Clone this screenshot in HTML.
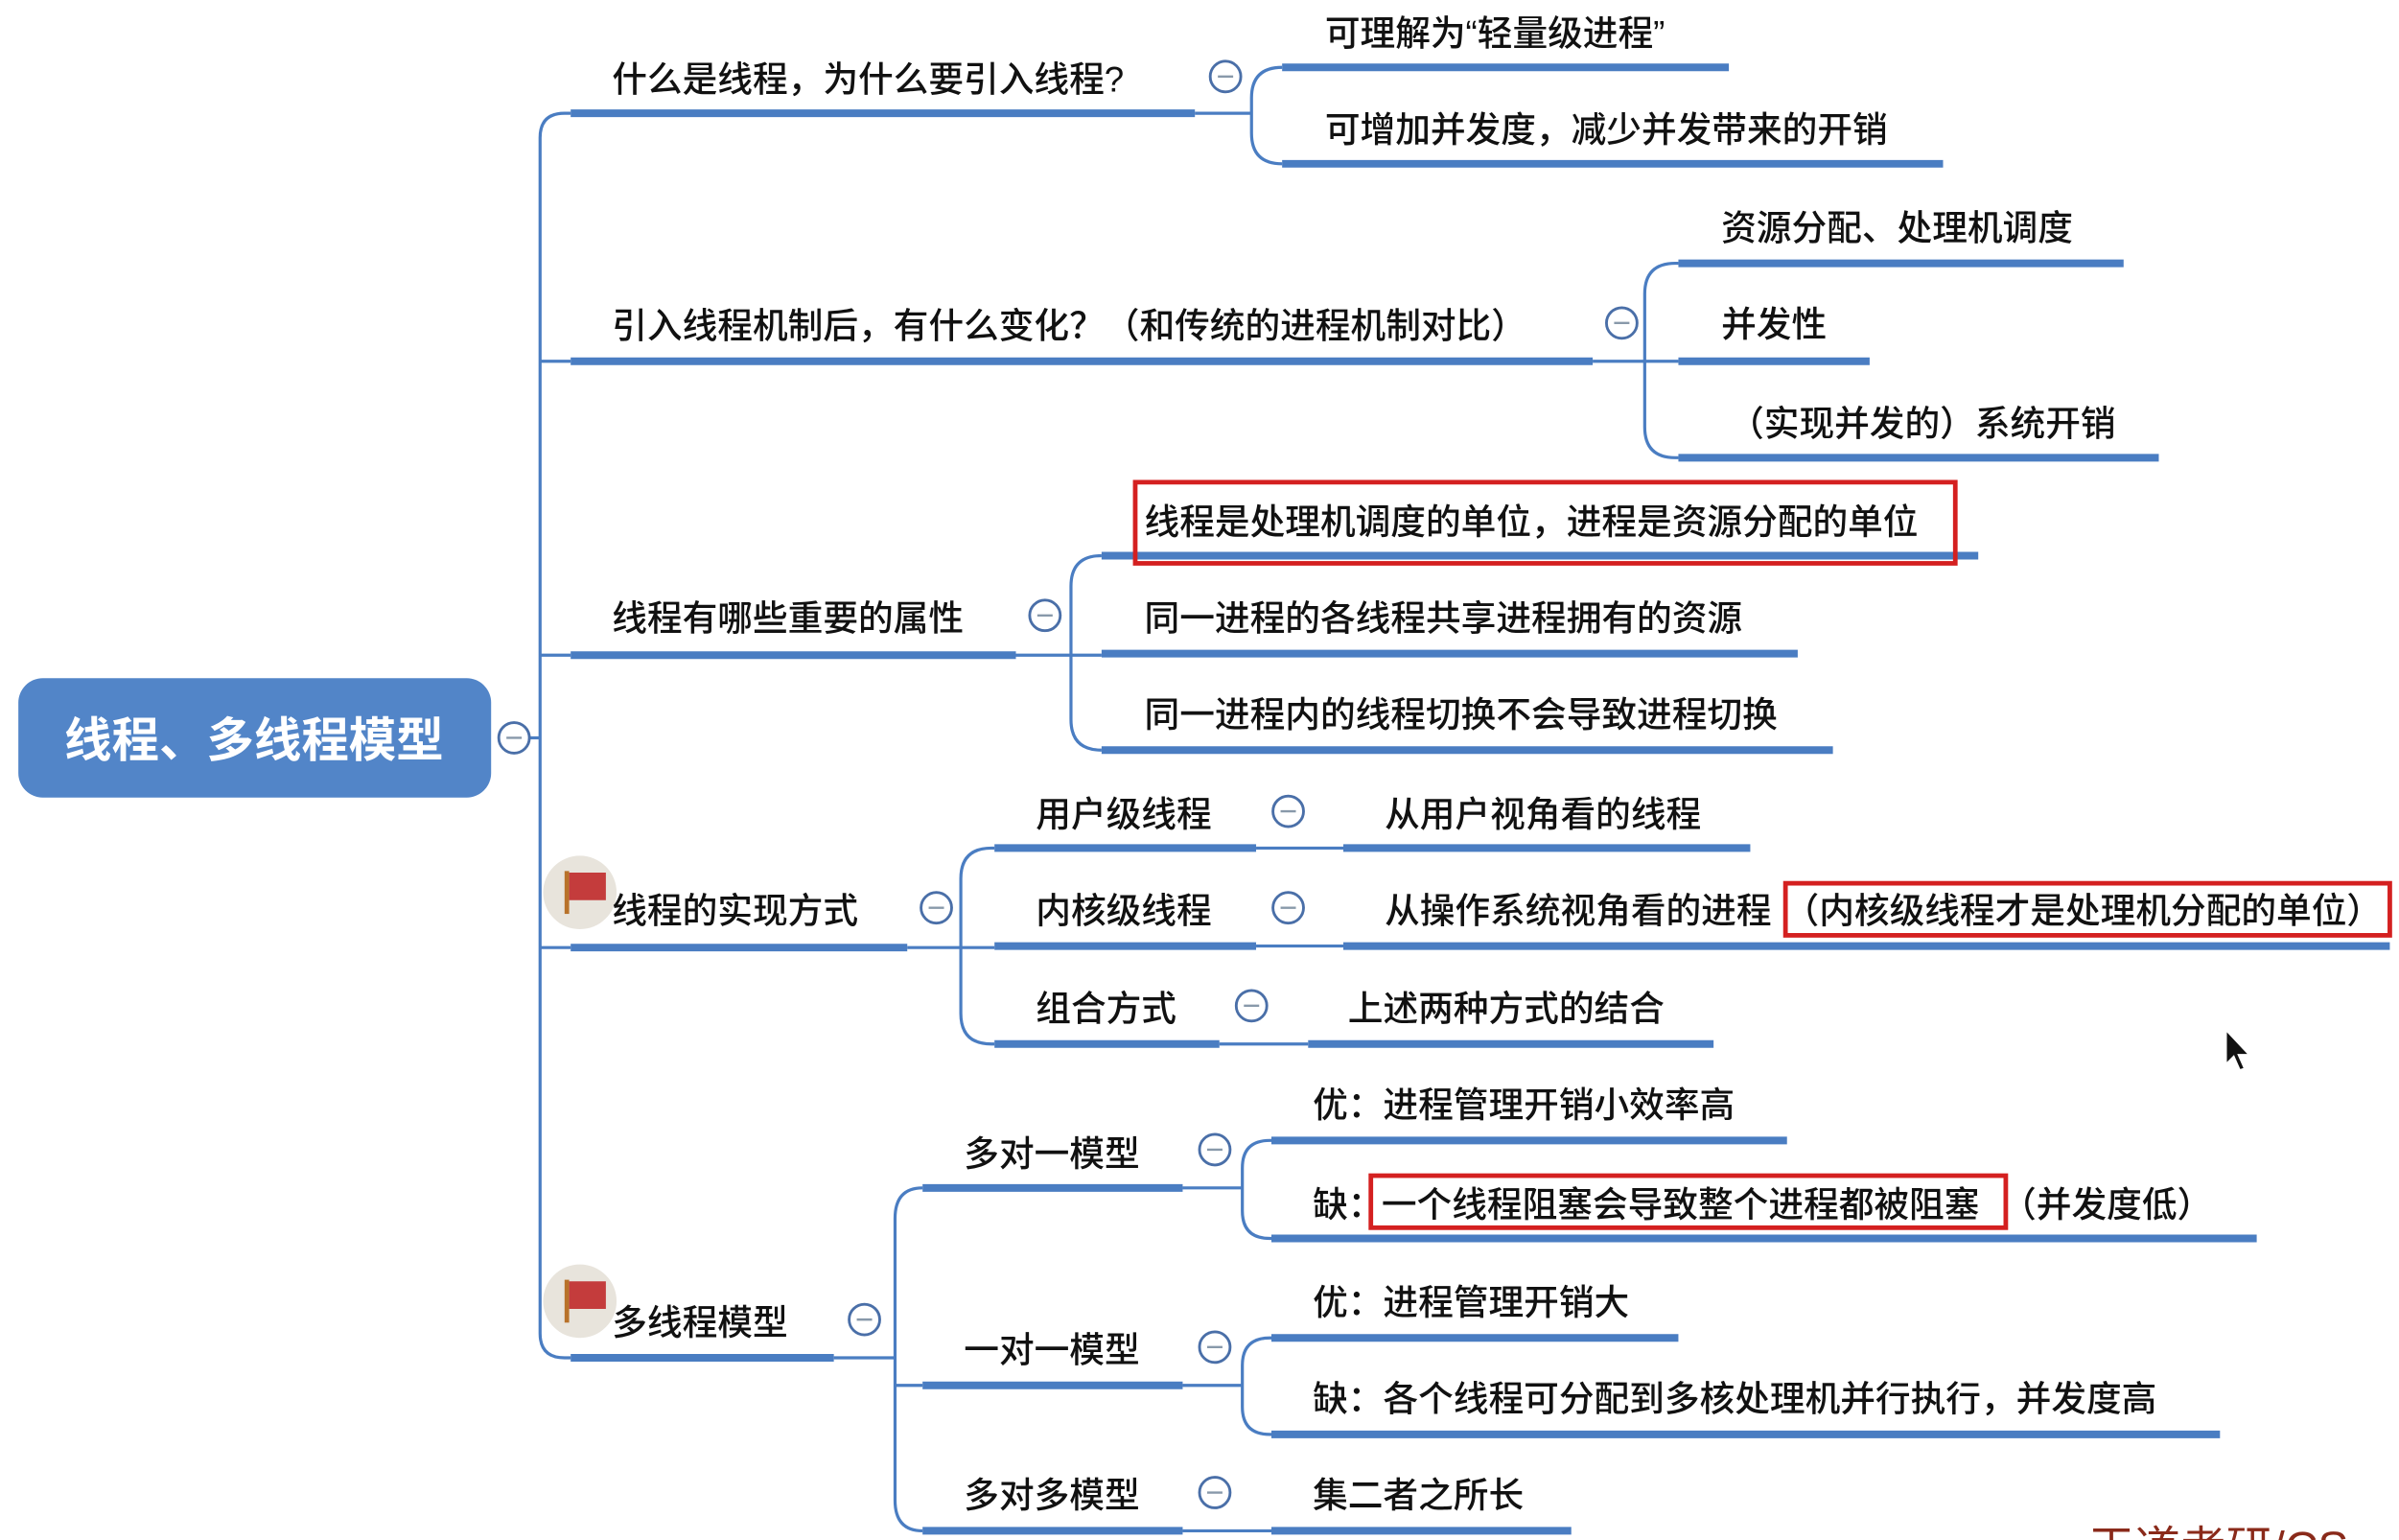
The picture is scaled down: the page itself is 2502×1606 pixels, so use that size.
<!DOCTYPE html>
<html><head><meta charset="utf-8"><style>
html,body{margin:0;padding:0;background:#fff;width:2502px;height:1606px;overflow:hidden}
svg{display:block}
text{font-family:"Liberation Sans","Noto Sans CJK SC",sans-serif;font-size:23px;fill:#111;dominant-baseline:central;font-weight:500}
.u{stroke:#4a7dc2;stroke-width:5;stroke-linecap:butt}
.c{fill:none;stroke:#4a7dc2;stroke-width:2}
.r{fill:none;stroke:#d42020;stroke-width:3}
</style></head><body>
<svg width="2502" height="1606" viewBox="0 0 1568 1006" preserveAspectRatio="none">
<g class="c">
<path d="M346 482 H353"/>
<path d="M353 90 Q353 74 369 74 H373 M353 90 V871 Q353 887 369 887 H373 M353 236 H373 M353 428 H373 M353 619 H373"/>
<path d="M781 74 H818 M818 64 Q818 44 838 44 M818 64 V87 Q818 107 838 107"/>
<path d="M1041 236 H1097 M1075 192 Q1075 172 1095 172 H1097 M1075 192 V279 Q1075 299 1095 299 H1097"/>
<path d="M664 428 H720 M700 383 Q700 363 720 363 M700 383 V470 Q700 490 720 490"/>
<path d="M593 619 H650 M628 574 Q628 554 648 554 H650 M628 574 V662 Q628 682 648 682 H650"/>
<path d="M821 554 H878 M821 618 H878 M797 682 H855"/>
<path d="M545 887 H585 M585 796 Q585 776 603 776 M585 796 V980 Q585 1000 603 1000 M585 905 H603"/>
<path d="M773 776 H812 M812 763 Q812 745 830 745 H831 M812 763 V791 Q812 809 830 809 H831"/>
<path d="M773 905 H812 M812 892 Q812 874 830 874 H831 M812 892 V919 Q812 937 830 937 H831"/>
<path d="M773 1000 H831"/>
</g>
<g class="u">
<line x1="373" y1="74" x2="781" y2="74"/>
<line x1="838" y1="44" x2="1130" y2="44"/>
<line x1="838" y1="107" x2="1270" y2="107"/>
<line x1="373" y1="236" x2="1041" y2="236"/>
<line x1="1097" y1="172" x2="1388" y2="172"/>
<line x1="1097" y1="236" x2="1222" y2="236"/>
<line x1="1097" y1="299" x2="1411" y2="299"/>
<line x1="373" y1="428" x2="664" y2="428"/>
<line x1="720" y1="363" x2="1293" y2="363"/>
<line x1="720" y1="427" x2="1175" y2="427"/>
<line x1="720" y1="490" x2="1198" y2="490"/>
<line x1="373" y1="619" x2="593" y2="619"/>
<line x1="650" y1="554" x2="821" y2="554"/>
<line x1="878" y1="554" x2="1144" y2="554"/>
<line x1="650" y1="618" x2="821" y2="618"/>
<line x1="878" y1="618" x2="1562" y2="618"/>
<line x1="650" y1="682" x2="797" y2="682"/>
<line x1="855" y1="682" x2="1120" y2="682"/>
<line x1="373" y1="887" x2="545" y2="887"/>
<line x1="603" y1="776" x2="773" y2="776"/>
<line x1="831" y1="745" x2="1168" y2="745"/>
<line x1="831" y1="809" x2="1475" y2="809"/>
<line x1="603" y1="905" x2="773" y2="905"/>
<line x1="831" y1="874" x2="1097" y2="874"/>
<line x1="831" y1="937" x2="1451" y2="937"/>
<line x1="603" y1="1000" x2="773" y2="1000"/>
<line x1="831" y1="1000" x2="1027" y2="1000"/>
</g>
<rect x="12" y="443" width="309" height="78" rx="16" fill="#5285c8"/>
<text x="166" y="484" text-anchor="middle" style="font-size:31px;font-weight:bold;fill:#fff">线程、多线程模型</text>
<g fill="#fff" stroke="#4a6fa8" stroke-width="1.8">
<circle cx="336" cy="482" r="10"/><circle cx="801" cy="50" r="10"/><circle cx="1060" cy="211" r="10"/>
<circle cx="683" cy="402" r="10"/><circle cx="612" cy="593" r="10"/><circle cx="842" cy="530" r="10"/>
<circle cx="842" cy="593" r="10"/><circle cx="818" cy="657" r="10"/><circle cx="565" cy="862" r="10"/>
<circle cx="794" cy="751" r="10"/><circle cx="794" cy="880" r="10"/><circle cx="794" cy="975" r="10"/>
</g>
<g stroke="#8899aa" stroke-width="1.5">
<line x1="331" y1="482" x2="341" y2="482"/><line x1="796" y1="50" x2="806" y2="50"/><line x1="1055" y1="211" x2="1065" y2="211"/>
<line x1="678" y1="402" x2="688" y2="402"/><line x1="607" y1="593" x2="617" y2="593"/><line x1="837" y1="530" x2="847" y2="530"/>
<line x1="837" y1="593" x2="847" y2="593"/><line x1="813" y1="657" x2="823" y2="657"/><line x1="560" y1="862" x2="570" y2="862"/>
<line x1="789" y1="751" x2="799" y2="751"/><line x1="789" y1="880" x2="799" y2="880"/><line x1="789" y1="975" x2="799" y2="975"/>
</g>
<g>
<circle cx="379" cy="583" r="24" fill="#e8e4dc"/>
<rect x="369" y="569" width="3" height="28" fill="#b8722a"/><path d="M372 570 H396 V588 H372 Z" fill="#c43c3c"/>
<circle cx="379" cy="850" r="24" fill="#e8e4dc"/>
<rect x="369" y="836" width="3" height="28" fill="#b8722a"/><path d="M372 837 H396 V855 H372 Z" fill="#c43c3c"/>
</g>
<rect class="r" x="742" y="315" width="536" height="53"/>
<rect class="r" x="1167" y="577" width="395" height="34"/>
<rect class="r" x="896" y="768" width="415" height="34"/>
<text x="400" y="52">什么是线程，为什么要引入线程?</text>
<text x="866" y="22">可理解为“轻量级进程”</text>
<text x="866" y="85">可增加并发度，减少并发带来的开销</text>
<text x="400" y="213">引入线程机制后，有什么变化？（和传统的进程机制对比）</text>
<text x="1125" y="149">资源分配、处理机调度</text>
<text x="1125" y="212">并发性</text>
<text x="1130" y="277">（实现并发的）系统开销</text>
<text x="400" y="404">线程有哪些重要的属性</text>
<text x="748" y="341">线程是处理机调度的单位，进程是资源分配的单位</text>
<text x="748" y="404">同一进程的各线程共享进程拥有的资源</text>
<text x="748" y="467">同一进程内的线程切换不会导致进程切换</text>
<text x="400" y="595">线程的实现方式</text>
<text x="677" y="532">用户级线程</text>
<text x="905" y="532">从用户视角看的线程</text>
<text x="677" y="595">内核级线程</text>
<text x="905" y="595">从操作系统视角看的进程</text>
<text x="1166" y="595">（内核级线程才是处理机分配的单位）</text>
<text x="677" y="659">组合方式</text>
<text x="881" y="659">上述两种方式的结合</text>
<text x="400" y="864">多线程模型</text>
<text x="630" y="754">多对一模型</text>
<text x="858" y="722">优：进程管理开销小效率高</text>
<text x="858" y="787">缺：</text>
<text x="903" y="787">一个线程阻塞会导致整个进程都被阻塞</text>
<text x="1308" y="787">（并发度低）</text>
<text x="630" y="882">一对一模型</text>
<text x="858" y="851">优：进程管理开销大</text>
<text x="858" y="914">缺：各个线程可分配到多核处理机并行执行，并发度高</text>
<text x="630" y="977">多对多模型</text>
<text x="858" y="977">集二者之所长</text>
<text x="1365" y="1012" style="font-size:30px;fill:#8a2a1a;font-weight:normal">王道考研/CS</text>
<path d="M1455 673 L1455 695 L1460 690 L1464 699 L1467 698 L1463 689 L1470 689 Z" fill="#111" stroke="#fff" stroke-width="1"/>
</svg>
</body></html>
